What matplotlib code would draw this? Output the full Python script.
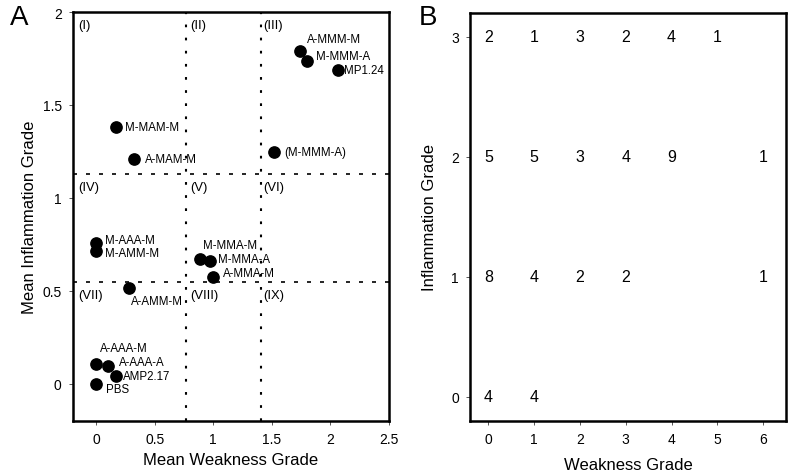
import matplotlib
matplotlib.use("Agg")
import matplotlib.pyplot as plt

plt.rcParams["font.family"] = ["Liberation Sans", "DejaVu Sans"]

# Panel A: mean grades per group
names = ["A-MMM-M", "M-MMM-A", "MP1.24", "M-MAM-M", "A-MAM-M", "(M-MMM-A)",
         "M-AAA-M", "M-AMM-M", "M-MMA-M", "M-MMA-A", "A-MMA-M", "A-AMM-M",
         "A-AAA-M", "A-AAA-A", "AMP2.17", "PBS"]
mean_weak = [1.74, 1.80, 2.07, 0.17, 0.325, 1.52,
             0.0, 0.0, 0.89, 0.97, 1.0, 0.28,
             0.0, 0.105, 0.17, 0.0]
mean_infl = [1.79, 1.735, 1.69, 1.38, 1.21, 1.245,
             0.755, 0.713, 0.672, 0.663, 0.575, 0.517,
             0.104, 0.095, 0.043, 0.0]
# label offsets in pixels (dx, dy up)
label_off = [(7, 12), (9, 5), (6, 0), (9, 0), (11, 0), (10, 0),
             (9, 3), (9, -2), (3, 14), (8, 2), (10, 4), (2, -13),
             (4, 16), (10, 4), (7, 0), (10, -5)]

weak_cut = [0.77, 1.41]
infl_cut = [1.13, 0.55]
regions = ["(I)", "(II)", "(III)", "(IV)", "(V)", "(VI)", "(VII)", "(VIII)", "(IX)"]
region_x = [-0.15, 0.80, 1.43]
region_y = [1.93, 1.06, 0.48]

# Panel B: counts at each (weakness, inflammation) grade
count_w = [0, 1, 2, 3, 4, 5, 0, 1, 2, 3, 4, 6, 0, 1, 2, 3, 6, 0, 1]
count_i = [3, 3, 3, 3, 3, 3, 2, 2, 2, 2, 2, 2, 1, 1, 1, 1, 1, 0, 0]
counts = [2, 1, 3, 2, 4, 1, 5, 5, 3, 4, 9, 1, 8, 4, 2, 2, 1, 4, 4]

fig = plt.figure(figsize=(8, 4.77), dpi=100)
axA = fig.add_axes([0.091, 0.1153, 0.395, 0.8574])
axB = fig.add_axes([0.5875, 0.116, 0.395, 0.8553])

ax = axA
ax.scatter(mean_weak, mean_infl, s=66, color="black", zorder=3)
for n, x, y, (dx, dy) in zip(names, mean_weak, mean_infl, label_off):
    ax.annotate(n, (x, y), xytext=(dx * 0.72, dy * 0.72), textcoords="offset points",
                ha="left", va="center", fontsize=8.3)
for xc in weak_cut:
    ax.axvline(xc, color="black", lw=1.5, ls=(0, (1.3, 5.0)))
for yc in infl_cut:
    ax.axhline(yc, color="black", lw=1.2, ls=(0, (2.4, 5.4)))
k = 0
for ry in region_y:
    for rx in region_x:
        ax.text(rx, ry, regions[k], fontsize=9.4, ha="left", va="center")
        k += 1
ax.set_xlim(-0.2, 2.5)
ax.set_ylim(-0.2, 2.0)
ax.set_xticks([0, 0.5, 1, 1.5, 2, 2.5])
ax.set_xticklabels(["0", "0.5", "1", "1.5", "2", "2.5"])
ax.set_yticks([0, 0.5, 1, 1.5, 2])
ax.set_yticklabels(["0", "0.5", "1", "1.5", "2"])
ax.set_xlabel("Mean Weakness Grade", fontsize=12, labelpad=4)
ax.set_ylabel("Mean Inflammation Grade", fontsize=12)

ax = axB
for w, i, c in zip(count_w, count_i, counts):
    ax.text(w, i, str(c), ha="center", va="center", fontsize=11.5)
ax.set_xlim(-0.4, 6.5)
ax.set_ylim(-0.2, 3.2)
ax.set_xticks(range(7))
ax.set_yticks(range(4))
ax.set_xlabel("Weakness Grade", fontsize=12, labelpad=8)
ax.set_ylabel("Inflammation Grade", fontsize=12, labelpad=10)

for ax in (axA, axB):
    for sp in ax.spines.values():
        sp.set_linewidth(1.8)
    ax.tick_params(direction="out", length=3, width=0.7, color="#555555",
                   labelsize=10, pad=5)

fig.text(0.013, 0.99, "A", fontsize=20, va="top", ha="left")
fig.text(0.523, 0.99, "B", fontsize=20, va="top", ha="left")

fig.savefig("out.png", dpi=100, facecolor="white")
